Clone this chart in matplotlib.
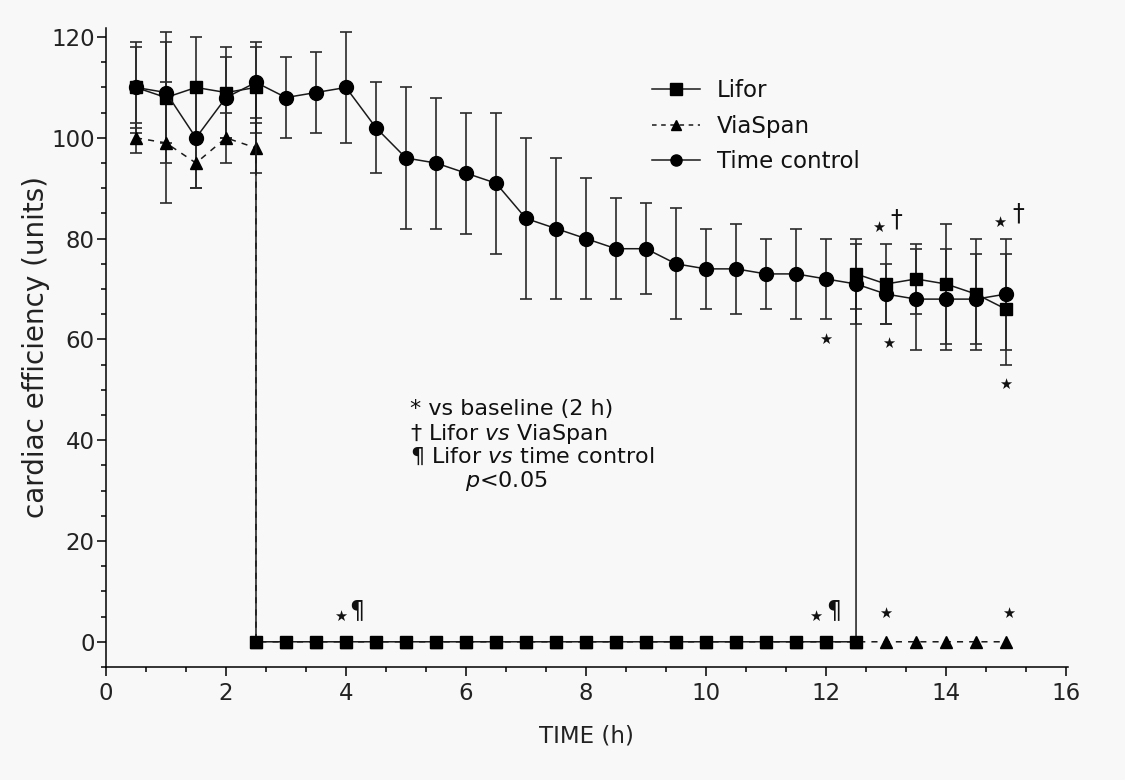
import matplotlib
matplotlib.use("Agg")
import matplotlib.pyplot as plt
from matplotlib.ticker import MultipleLocator, AutoMinorLocator
from matplotlib.lines import Line2D
import numpy as np

plt.rcParams['font.family'] = ['DejaVu Sans']
plt.rcParams['mathtext.fontset'] = 'custom'
plt.rcParams['mathtext.rm'] = 'DejaVu Sans'
plt.rcParams['mathtext.it'] = 'DejaVu Sans:italic'

# ---------------- data ----------------
tc_time = [0.5, 1.0, 1.5, 2.0, 2.5, 3.0, 3.5, 4.0, 4.5, 5.0, 5.5, 6.0, 6.5, 7.0, 7.5,
           8.0, 8.5, 9.0, 9.5, 10.0, 10.5, 11.0, 11.5, 12.0, 12.5, 13.0, 13.5, 14.0, 14.5, 15.0]
tc_val = [110, 109, 100, 108, 111, 108, 109, 110, 102, 96, 95, 93, 91, 84, 82,
          80, 78, 78, 75, 74, 74, 73, 73, 72, 71, 69, 68, 68, 68, 69]
tc_err = [8, 10, 10, 8, 7, 8, 8, 11, 9, 14, 13, 12, 14, 16, 14,
          12, 10, 9, 11, 8, 9, 7, 9, 8, 8, 6, 10, 10, 9, 11]

lifor_time = [0.5, 1.0, 1.5, 2.0, 2.5, 2.5, 3.0, 3.5, 4.0, 4.5, 5.0, 5.5, 6.0, 6.5, 7.0, 7.5,
              8.0, 8.5, 9.0, 9.5, 10.0, 10.5, 11.0, 11.5, 12.0, 12.5, 12.5, 13.0, 13.5, 14.0, 14.5, 15.0]
lifor_val = [110, 108, 110, 109, 110, 0, 0, 0, 0, 0, 0, 0, 0, 0, 0, 0,
             0, 0, 0, 0, 0, 0, 0, 0, 0, 0, 73, 71, 72, 71, 69, 66]
lifor_err = [9, 13, 10, 9, 9, 0, 0, 0, 0, 0, 0, 0, 0, 0, 0, 0,
             0, 0, 0, 0, 0, 0, 0, 0, 0, 0, 7, 8, 7, 12, 11, 11]

via_time = [0.5, 1.0, 1.5, 2.0, 2.5, 2.5, 3.0, 3.5, 4.0, 4.5, 5.0, 5.5, 6.0, 6.5, 7.0, 7.5,
            8.0, 8.5, 9.0, 9.5, 10.0, 10.5, 11.0, 11.5, 12.0, 12.5, 13.0, 13.5, 14.0, 14.5, 15.0]
via_val = [100, 99, 95, 100, 98, 0, 0, 0, 0, 0, 0, 0, 0, 0, 0, 0,
           0, 0, 0, 0, 0, 0, 0, 0, 0, 0, 0, 0, 0, 0, 0]
via_err = [3, 12, 5, 5, 5, 0, 0, 0, 0, 0, 0, 0, 0, 0, 0, 0,
           0, 0, 0, 0, 0, 0, 0, 0, 0, 0, 0, 0, 0, 0, 0]

series_labels = ["Lifor", "ViaSpan", "Time control"]
x_label = "TIME (h)"
y_label = "cardiac efficiency (units)"

# significance marks: (x, y)
star_marks = [(3.91, 5.0), (11.83, 5.0), (12.99, 5.6), (15.04, 5.6),
              (12.0, 60.0), (13.05, 59.3), (15.0, 51.0),
              (12.88, 82.3), (14.9, 83.3)]
dagger_marks = [(13.17, 83.8), (15.2, 85.0)]
pilcrow_marks = [(4.18, 6.3), (12.12, 6.3)]

note_lines = ["* vs baseline (2 h)",
              "† Lifor $\\mathit{vs}$ ViaSpan",
              "¶ Lifor $\\mathit{vs}$ time control",
              "$\\mathit{p}$<0.05"]

# ---------------- figure ----------------
bg = '#f8f8f8'
fig = plt.figure(figsize=(11.25, 7.8), dpi=100, facecolor=bg)
ax = fig.add_axes([0.0942, 0.1449, 0.855, 0.8192], facecolor=bg)

line_c = '#1a1a1a'
err_c = '#2a2a2a'


def draw_err(t, v, e):
    t = np.asarray(t); v = np.asarray(v); e = np.asarray(e)
    m = e > 0
    ax.errorbar(t[m], v[m], yerr=e[m], fmt='none', ecolor=err_c,
                elinewidth=1.2, capsize=4, capthick=1.2, zorder=2)


draw_err(via_time, via_val, via_err)
draw_err(lifor_time, lifor_val, lifor_err)
draw_err(tc_time, tc_val, tc_err)

ax.plot(via_time, via_val, color=line_c, lw=1.1, ls=(0, (4, 4)),
        marker='^', ms=8, mfc='black', mec='black', zorder=3)
ax.plot(lifor_time, lifor_val, color=line_c, lw=1.1, ls='-',
        marker='s', ms=9, mfc='black', mec='black', zorder=4)
ax.plot(tc_time, tc_val, color=line_c, lw=1.1, ls='-',
        marker='o', ms=10, mfc='black', mec='black', zorder=5)

# axes styling
ax.set_xlim(0, 16.03)
ax.set_ylim(-5, 121.8)
ax.spines['top'].set_visible(False)
ax.spines['right'].set_visible(False)
for s in ('left', 'bottom'):
    ax.spines[s].set_linewidth(1.1)
ax.xaxis.set_major_locator(MultipleLocator(2))
ax.xaxis.set_minor_locator(AutoMinorLocator(3))
ax.yaxis.set_major_locator(MultipleLocator(20))
ax.yaxis.set_minor_locator(AutoMinorLocator(4))
ax.tick_params(which='major', direction='out', length=6.5, width=1.1, labelsize=16.5, colors='black')
ax.tick_params(which='minor', direction='out', length=3.6, width=1.1)
ax.tick_params(axis='y', pad=1.5)
ax.tick_params(axis='x', pad=4)
for lab in ax.get_xticklabels() + ax.get_yticklabels():
    lab.set_color('#222222')

ax.set_xlabel(x_label, fontsize=16.5, color='#222222', labelpad=14)
ax.set_ylabel(y_label, fontsize=20, color='#222222', labelpad=1)

# legend
handles = [
    Line2D([], [], color=line_c, lw=1.1, ls='-', marker='s', ms=8, mfc='black', mec='black'),
    Line2D([], [], color=line_c, lw=1.1, ls=(0, (3, 3)), marker='^', ms=7, mfc='black', mec='black'),
    Line2D([], [], color=line_c, lw=1.1, ls='-', marker='o', ms=8, mfc='black', mec='black'),
]
leg = ax.legend(handles, series_labels, loc='upper left', bbox_to_anchor=(0.5676, 0.92),
                frameon=False, fontsize=16.5, handlelength=2.1, handletextpad=0.75,
                labelspacing=0.55, borderpad=0, borderaxespad=0)
for t in leg.get_texts():
    t.set_color('#111111')

# significance marks
for (x, y) in star_marks:
    ax.text(x, y, "★", ha='center', va='center', fontsize=10.5, color='#111111', zorder=6)
for (x, y) in dagger_marks:
    ax.text(x, y, "†", ha='center', va='center', fontsize=17, color='#111111', zorder=6)
for (x, y) in pilcrow_marks:
    ax.text(x, y, "¶", ha='center', va='center', fontsize=17, color='#111111', zorder=6)

# note block
note_x = [5.06, 5.06, 5.06, 5.99]
note_y = [46.2, 41.3, 36.7, 31.9]
for s, x, y in zip(note_lines, note_x, note_y):
    ax.text(x, y, s, ha='left', va='center', fontsize=16, color='#111111')

fig.savefig("out.png", dpi=100, facecolor=bg)
